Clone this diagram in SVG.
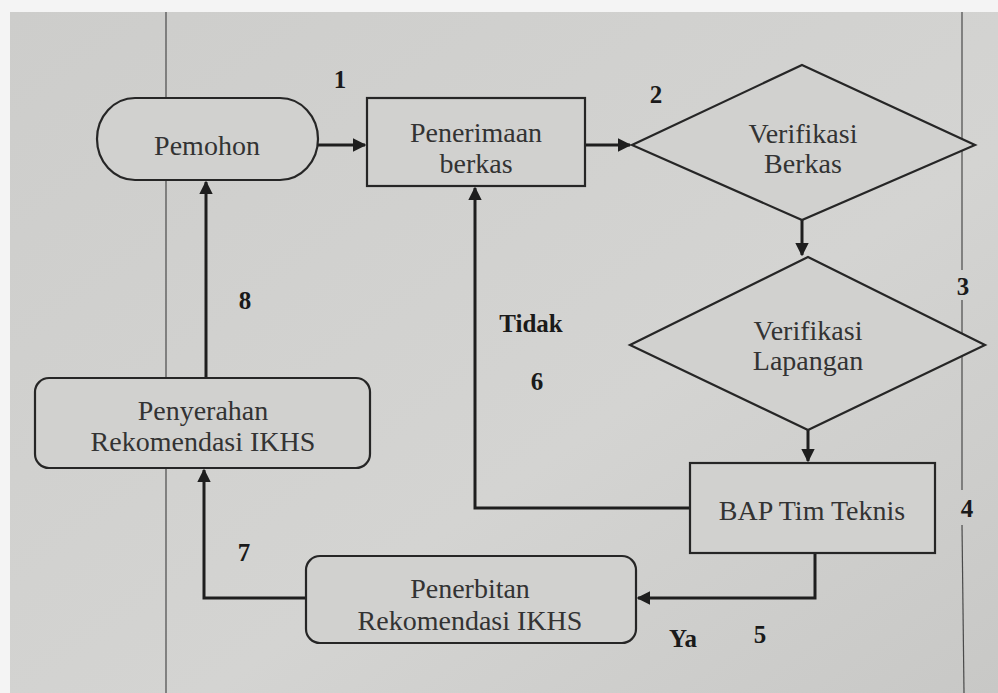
<svg xmlns="http://www.w3.org/2000/svg" width="998" height="693" viewBox="0 0 998 693">
<defs>
<linearGradient id="bg" x1="0" y1="0" x2="1" y2="1">
<stop offset="0" stop-color="#cdcdcb"/>
<stop offset="0.6" stop-color="#d4d4d2"/>
<stop offset="1" stop-color="#c8c8c6"/>
</linearGradient>
<marker id="ah" viewBox="0 0 10 10" refX="9" refY="5" markerWidth="4.5" markerHeight="4.5" orient="auto" markerUnits="strokeWidth">
<path d="M0,0 L10,5 L0,10 z" fill="#1e1e1e"/>
</marker>
<style>
.shape{fill:#d1d1cf;stroke:#262626;stroke-width:2.2}
.conn{fill:none;stroke:#1e1e1e;stroke-width:3;marker-end:url(#ah)}
.t{font-family:"Liberation Serif","DejaVu Serif",serif;font-size:28px;fill:#333333;text-anchor:middle}
.n{font-family:"Liberation Serif","DejaVu Serif",serif;font-size:25px;font-weight:bold;fill:#1a1a1a;text-anchor:middle}
.page{stroke:#4a4a4a;stroke-width:1.2}
</style>
</defs>
<rect width="998" height="693" fill="#f4f4f4"/>
<rect x="10" y="12" width="988" height="681" fill="url(#bg)"/>
<line class="page" x1="166" y1="12" x2="166" y2="693"/>
<line class="page" x1="962" y1="12" x2="962" y2="270"/>
<line class="page" x1="962" y1="300" x2="962" y2="490"/>
<line class="page" x1="962" y1="525" x2="964" y2="693"/>
<g id="connectors">
<path class="conn" d="M318,145 L365,145"/>
<path class="conn" d="M585,145 L630,145"/>
<path class="conn" d="M802,220 L802,255"/>
<path class="conn" d="M808,430 L808,461"/>
<path class="conn" d="M690,508 L475,508 L475,188"/>
<path class="conn" d="M815,553 L815,598 L638,598"/>
<path class="conn" d="M306,598 L204,598 L204,470"/>
<path class="conn" d="M206,378 L206,182"/>
</g>
<g id="pemohon">
<rect class="shape" x="97" y="98" width="221" height="82" rx="38" ry="41"/>
<text class="t" x="207" y="155">Pemohon</text>
</g>
<g id="penerimaan">
<rect class="shape" x="367" y="98" width="218" height="88"/>
<text class="t" x="476" y="142">Penerimaan</text>
<text class="t" x="476" y="173">berkas</text>
</g>
<g id="verifikasi-berkas">
<polygon class="shape" points="802,65 975,145 802,220 632,145"/>
<text class="t" x="803" y="143">Verifikasi</text>
<text class="t" x="803" y="173">Berkas</text>
</g>
<g id="verifikasi-lapangan">
<polygon class="shape" points="808,257 985,345 808,430 630,345"/>
<text class="t" x="808" y="340">Verifikasi</text>
<text class="t" x="808" y="370">Lapangan</text>
</g>
<g id="bap">
<rect class="shape" x="690" y="463" width="245" height="90"/>
<text class="t" x="812" y="520">BAP Tim Teknis</text>
</g>
<g id="penyerahan">
<rect class="shape" x="35" y="378" width="335" height="90" rx="14" ry="14"/>
<text class="t" x="203" y="420">Penyerahan</text>
<text class="t" x="203" y="451">Rekomendasi IKHS</text>
</g>
<g id="penerbitan">
<rect class="shape" x="306" y="556" width="330" height="87" rx="14" ry="14"/>
<text class="t" x="470" y="598">Penerbitan</text>
<text class="t" x="470" y="630">Rekomendasi IKHS</text>
</g>
<g id="labels">
<text class="n" x="340" y="88">1</text>
<text class="n" x="656" y="103">2</text>
<text class="n" x="963" y="295">3</text>
<text class="n" x="967" y="517">4</text>
<text class="n" x="760" y="643">5</text>
<text class="n" x="537" y="390">6</text>
<text class="n" x="244" y="561">7</text>
<text class="n" x="245" y="309">8</text>
<text class="n" x="531" y="332">Tidak</text>
<text class="n" x="683" y="647">Ya</text>
</g>
</svg>
